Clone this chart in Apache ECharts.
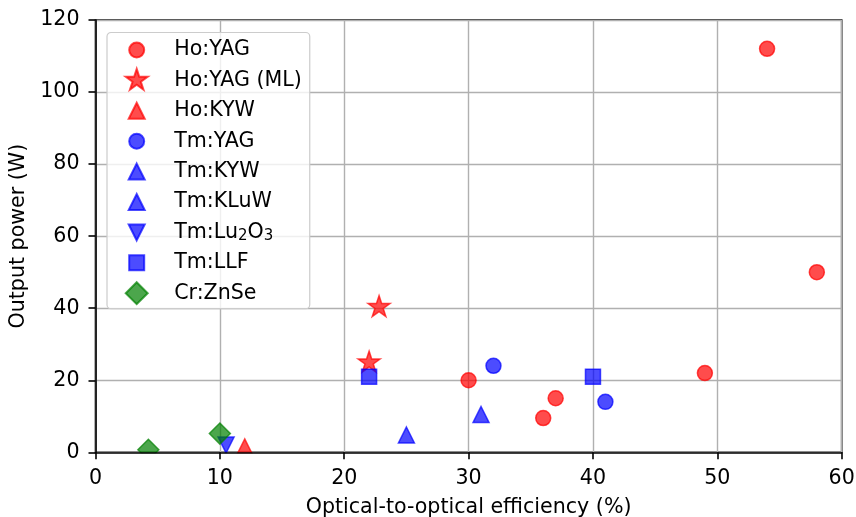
<!DOCTYPE html>
<html><head><meta charset="utf-8">
<script src="https://cdn.jsdelivr.net/npm/echarts@6/dist/echarts.min.js"></script>
<style>html,body{margin:0;padding:0;background:#fff}#c{width:856px;height:517px}</style>
</head><body><div id="c"></div>
<script>
// ---- data ----
const seriesNames = ['Ho:YAG', 'Ho:YAG (ML)', 'Ho:KYW', 'Tm:YAG', 'Tm:KYW', 'Tm:KLuW', 'Tm:Lu2O3', 'Tm:LLF', 'Cr:ZnSe'];
const hoYAG   = [[30, 20], [36, 9.5], [37, 15], [49, 22], [54, 112], [58, 50]];
const hoYAGML = [[22, 25.2], [22.8, 40.6]];
const hoKYW   = [[12, 1.5]];
const tmYAG   = [[32, 24], [41, 14]];
const tmKYW   = [[31, 10.5]];
const tmKLuW  = [[25, 4.8]];
const tmLu2O3 = [[10.5, 2]];
const tmLLF   = [[22, 21], [40, 21]];
const crZnSe  = [[4.25, 0.7], [10, 5.2]];
const xTicks = [0, 10, 20, 30, 40, 50, 60];
const yTicks = [0, 20, 40, 60, 80, 100, 120];
const xLabel = 'Optical-to-optical efficiency (%)';
const yLabel = 'Output power (W)';

// ---- styles ----
const RED = '#ff0000', BLUE = '#0000ff', GREEN = '#008000';
const FONT = 'DejaVu Sans';
const FS = 20.6;
const starPath = 'M0,-11.5L2.58,-3.55L10.94,-3.55L4.17,1.36L6.76,9.3L0,4.39L-6.76,9.3L-4.17,1.36L-10.94,-3.55L-2.58,-3.55Z';
const B = 'M-11.5,-11.5M11.5,11.5';
const icons = {
  circle: 'path://' + B + 'M-7.5,0A7.5,7.5,0,1,1,7.5,0A7.5,7.5,0,1,1,-7.5,0Z',
  star: 'path://' + B + starPath,
  tri: 'path://' + B + 'M0,-8L8,8L-8,8Z',
  tridown: 'path://' + B + 'M0,8L8,-8L-8,-8Z',
  square: 'path://' + B + 'M-7.5,-7.5L7.5,-7.5L7.5,7.5L-7.5,7.5Z',
  diamond: 'path://' + B + 'M0,-11L11,0L0,11L-11,0Z'
};
const specs = [
  {data: hoYAG,   color: RED,   symbol: 'circle', size: 15, icon: icons.circle},
  {data: hoYAGML, color: RED,   symbol: 'path://' + starPath, size: 22, icon: icons.star},
  {data: hoKYW,   color: RED,   symbol: 'triangle', size: 16, icon: icons.tri},
  {data: tmYAG,   color: BLUE,  symbol: 'circle', size: 15, icon: icons.circle},
  {data: tmKYW,   color: BLUE,  symbol: 'triangle', size: 16, icon: icons.tri},
  {data: tmKLuW,  color: BLUE,  symbol: 'triangle', size: 16, icon: icons.tri},
  {data: tmLu2O3, color: BLUE,  symbol: 'triangle', size: 16, rotate: 180, icon: icons.tridown},
  {data: tmLLF,   color: BLUE,  symbol: 'rect', size: 15, icon: icons.square},
  {data: crZnSe,  color: GREEN, symbol: 'diamond', size: 21, icon: icons.diamond}
];

const chart = echarts.init(document.getElementById('c'), null, {renderer: 'canvas'});
const option = {
  animation: false,
  backgroundColor: '#fff',
  textStyle: {fontFamily: FONT},
  grid: {left: 95.5, right: 14.3, top: 20, bottom: 64.7, outerBoundsMode: 'none',
         show: true, borderColor: '#000', borderWidth: 1.6, containLabel: false},
  xAxis: [
    {type: 'value', min: xTicks[0], max: xTicks[xTicks.length - 1], interval: 10,
     axisLine: {show: false}, axisTick: {show: false}, axisLabel: {show: false},
     splitLine: {show: true, lineStyle: {color: '#b0b0b0', width: 1.4}}, z: 0},
    {type: 'value', position: 'bottom', min: xTicks[0], max: xTicks[xTicks.length - 1], interval: 10, z: 10,
     axisLine: {show: true, onZero: false, lineStyle: {color: '#000', width: 1.6}},
     axisTick: {show: true, inside: false, length: 7, lineStyle: {color: '#000', width: 1.6}},
     axisLabel: {fontFamily: FONT, fontSize: FS, color: '#000', margin: 16},
     splitLine: {show: false},
     name: xLabel, nameLocation: 'middle', nameGap: 45,
     nameTextStyle: {fontFamily: FONT, fontSize: FS, color: '#000'}}
  ],
  yAxis: {type: 'value', min: yTicks[0], max: yTicks[yTicks.length - 1], interval: 20,
    axisLine: {show: true, onZero: false, lineStyle: {color: '#000', width: 1.6}},
    axisTick: {show: true, inside: false, length: 7, lineStyle: {color: '#000', width: 1.6}},
    axisLabel: {fontFamily: FONT, fontSize: FS, color: '#000', margin: 16},
    splitLine: {show: true, lineStyle: {color: '#b0b0b0', width: 1.4}},
    name: yLabel, nameLocation: 'middle', nameGap: 65,
    nameTextStyle: {fontFamily: FONT, fontSize: FS, color: '#000'}},
  legend: {
    orient: 'vertical', left: 107, top: 32.5,
    padding: [5, 8, 3, 17.2],
    itemWidth: 30, itemHeight: 23, itemGap: 5.4,
    backgroundColor: 'rgba(255,255,255,0.8)',
    borderColor: '#cccccc', borderWidth: 1.2, borderRadius: 4,
    formatter: n => n.split(/(\d)/).map(p => /^\d$/.test(p) ? '{s|' + p + '}' : (p ? '{n|' + p + '}' : '')).join(''),
    textStyle: {fontFamily: FONT, fontSize: FS, color: '#000', padding: [0, 0, 0, 17.5], lineHeight: 23,
      rich: {
        n: {fontFamily: FONT, fontSize: FS, color: '#000', lineHeight: 23},
        s: {fontFamily: FONT, fontSize: 15, color: '#000', lineHeight: 17, verticalAlign: 'bottom'}
      }},
    data: seriesNames.map((n, i) => ({name: n, icon: specs[i].icon}))
  },
  series: specs.map((s, i) => ({
    type: 'scatter', name: seriesNames[i], xAxisIndex: 0,
    data: s.data, symbol: s.symbol, symbolSize: s.size, symbolRotate: s.rotate || 0,
    symbolKeepAspect: true, clip: false, z: 2,
    itemStyle: {color: s.color, opacity: 0.7, borderColor: s.color, borderWidth: 1.5},
    emphasis: {disabled: true}
  }))
};
chart.setOption(option);
// white mask below the x axis to clip markers at the plot edge (like matplotlib)
const p0 = chart.convertToPixel({gridIndex: 0}, [xTicks[0], yTicks[0]]);
const p1 = chart.convertToPixel({gridIndex: 0}, [xTicks[xTicks.length - 1], yTicks[0]]);
chart.setOption({graphic: [{type: 'rect', z: 5, silent: true,
  shape: {x: p0[0] + 1, y: p0[1] + 1, width: p1[0] - p0[0] - 2, height: 13},
  style: {fill: '#fff'}}]});
</script></body></html>
